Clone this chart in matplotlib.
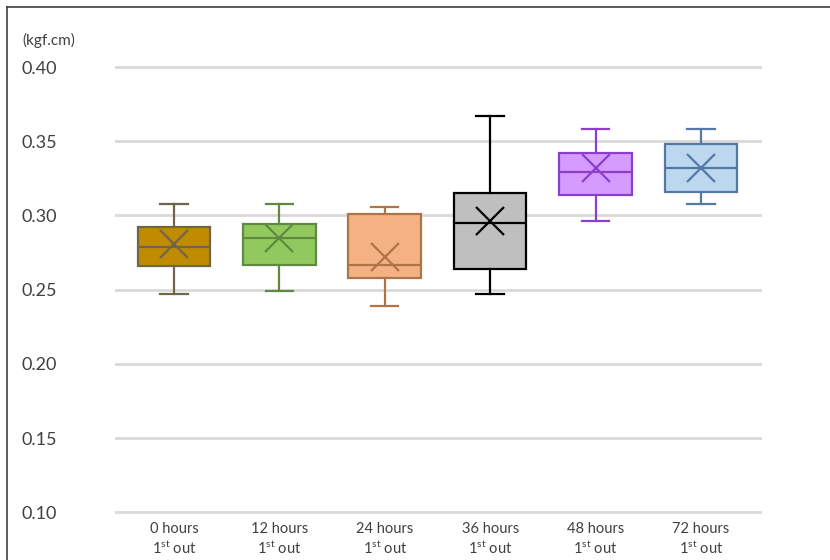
import matplotlib
matplotlib.use("Agg")
import matplotlib.pyplot as plt
from matplotlib.lines import Line2D

plt.rcParams['font.family'] = ['Lato', 'DejaVu Sans']
plt.rcParams['mathtext.fontset'] = 'custom'
plt.rcParams['mathtext.rm'] = 'Lato'
plt.rcParams['mathtext.it'] = 'Lato'

categories = ["0 hours", "12 hours", "24 hours", "36 hours", "48 hours", "72 hours"]
whisk_low = [0.247, 0.249, 0.239, 0.247, 0.296, 0.308]
q1 = [0.266, 0.267, 0.258, 0.264, 0.314, 0.316]
median = [0.279, 0.285, 0.267, 0.295, 0.329, 0.332]
q3 = [0.292, 0.294, 0.301, 0.315, 0.342, 0.348]
whisk_high = [0.308, 0.308, 0.306, 0.367, 0.358, 0.358]
means = [0.281, 0.285, 0.272, 0.296, 0.332, 0.332]
yticks = [0.10, 0.15, 0.20, 0.25, 0.30, 0.35, 0.40]
unit_label = "(kgf.cm)"

face_colors = ["#BF8C00", "#92C95E", "#F4B183", "#BFBFBF", "#D59BFF", "#BDD7EE"]
edge_colors = ["#70654A", "#5F8A3F", "#B07448", "#000000", "#8D3FCB", "#5479A6"]

W, H = 830, 560
fig = plt.figure(figsize=(W / 100, H / 100), dpi=100)

# axes placement in pixels
x_left_px, x_right_px = 115, 762
y_top_val, y_bot_val = 0.4015, 0.0985
px_per_unit = (512.5 - 67) / 0.30
top_px = 67 - (y_top_val - 0.40) * px_per_unit
bot_px = 512.5 + (0.10 - y_bot_val) * px_per_unit
ax = fig.add_axes([x_left_px / W, 1 - bot_px / H, (x_right_px - x_left_px) / W, (bot_px - top_px) / H])

stats = []
for i, c in enumerate(categories):
    stats.append(dict(label=c, whislo=whisk_low[i], q1=q1[i], med=median[i],
                      q3=q3[i], whishi=whisk_high[i], mean=means[i], fliers=[]))

positions = list(range(len(categories)))
for i, s in enumerate(stats):
    ec = edge_colors[i]
    ax.bxp([s], positions=[positions[i]], widths=0.69, patch_artist=True,
           showmeans=True, meanline=False, capwidths=0.26,
           boxprops=dict(facecolor=face_colors[i], edgecolor=ec, linewidth=1.6),
           medianprops=dict(color=ec, linewidth=1.6),
           whiskerprops=dict(color=ec, linewidth=1.6),
           capprops=dict(color=ec, linewidth=1.6),
           meanprops=dict(marker='x', markersize=20, markeredgecolor=ec,
                          markeredgewidth=1.6, markerfacecolor='none'),
           zorder=3)

xlabels = [f"{c}\n1$^{{\\mathrm{{st}}}}$ out" for c in categories]
ax.set_xticks(positions)
ax.set_xticklabels(xlabels, fontsize=10.5, color='#404040', linespacing=1.3)
ax.set_xlim(-0.56, 5.58)
ax.set_ylim(y_bot_val, y_top_val)
ax.set_yticks(yticks)
ax.set_yticklabels([f"{v:.2f}" for v in yticks], fontsize=13, color='#404040')
ax.tick_params(axis='both', length=0)
ax.tick_params(axis='y', pad=67)
for lbl in ax.get_yticklabels():
    lbl.set_horizontalalignment('left')
ax.tick_params(axis='x', pad=5)
ax.grid(axis='y', color='#D9D9D9', linewidth=2)
ax.set_axisbelow(True)
for sp in ax.spines.values():
    sp.set_visible(False)

fig.text(22 / W, 1 - 40 / H, unit_label, fontsize=11, color='#404040', va='center', ha='left')

# outer frame lines (left and top)
fig.add_artist(Line2D([6.5 / W, 6.5 / W], [0, 1 - 7 / H], color='#404040', linewidth=1.2,
                      transform=fig.transFigure))
fig.add_artist(Line2D([6.5 / W, 1], [1 - 7 / H, 1 - 7 / H], color='#404040', linewidth=1.2,
                      transform=fig.transFigure))

fig.savefig("out.png", dpi=100)
